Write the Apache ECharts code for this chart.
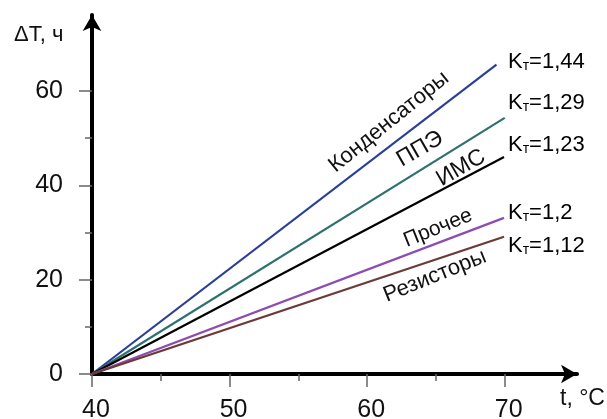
<!DOCTYPE html>
<html>
<head>
<meta charset="utf-8">
<script src="https://cdn.jsdelivr.net/npm/echarts@6/dist/echarts.min.js"></script>
<style>
  html, body { margin: 0; padding: 0; background: #fff; }
  #chart { width: 607px; height: 419px; }
</style>
</head>
<body>
<div id="chart"></div>
<script>
  /******************/
  //region    //data

  // line endpoints: every line starts at (40, 0)
  let startPoint = [40, 0];
  let seriesNames = ['Конденсаторы', 'ППЭ', 'ИМС', 'Прочее', 'Резисторы'];
  let endX = [69.4, 70, 69.95, 69.95, 69.95];
  let endY = [65.6, 54.3, 46.0, 33.1, 29.1];
  let kValues = ['1,44', '1,29', '1,23', '1,2', '1,12'];

  let xTickLabels = [40, 50, 60, 70];
  let xMinorTicks = [45, 55, 65];
  let yTickLabels = [0, 20, 40, 60];
  let yMinorTicks = [10, 30, 50];

  //endregion

  /******************/
  //region    //initialize

  let colors = ['#2b3f97', '#2f716e', '#000000', '#8e4bb0', '#6b3a38'];
  let numFont = '"Liberation Sans", Arial, sans-serif';
  let textFont = '"Liberation Sans", Arial, sans-serif';

  let grid = { left: 92, right: 30, top: 15, bottom: 45 };
  let gridW = 607 - grid.left - grid.right;
  let gridH = 419 - grid.top - grid.bottom;

  //endregion

  /******************/
  //region    //function

  function buildSeries() {
    return seriesNames.map((name, i) => ({
      name,
      type: 'line',
      symbol: 'none',
      silent: true,
      xAxisIndex: 0,
      yAxisIndex: 0,
      lineStyle: { color: colors[i], width: 2.2 },
      data: [startPoint, [endX[i], endY[i]]],
    }));
  }

  // rotated names along the lines
  function buildNameLabels() {
    let spots = [
      { x: 389, y: 122, r: 39, size: 22 },
      { x: 420, y: 149, r: 30, size: 23 },
      { x: 461, y: 168, r: 30, size: 23 },
      { x: 438, y: 228, r: 22, size: 21 },
      { x: 435, y: 276, r: 22, size: 22 },
    ];
    return seriesNames.map((name, i) => ({
      type: 'text',
      x: spots[i].x,
      y: spots[i].y,
      rotation: spots[i].r * Math.PI / 180,
      style: {
        text: name,
        fill: '#111',
        font: spots[i].size + 'px ' + textFont,
        align: 'center',
        verticalAlign: 'middle',
      },
    }));
  }

  // K_т labels at the right ends
  function buildKLabels() {
    let ys = [61, 102, 144, 212, 245];
    return kValues.map((k, i) => ({
      type: 'text',
      x: 508,
      y: ys[i],
      style: {
        text: '{k|K}{s|т}{k|=' + k + '}',
        align: 'left',
        verticalAlign: 'middle',
        rich: {
          k: { fontSize: 22, fontFamily: textFont, color: '#111', lineHeight: 24, verticalAlign: 'bottom' },
          s: { fontSize: 14, fontFamily: textFont, color: '#111', lineHeight: 24, verticalAlign: 'bottom' },
        },
      },
    }));
  }

  function deployEchart() {
    let chart = echarts.init(document.getElementById('chart'), null, { renderer: 'canvas' });
    let xMax = 40 + gridW / 13.757;
    let yMax = gridH / 4.717;

    let tickLine = { color: '#666', width: 1.5 };
    let option = {
      animation: false,
      grid: Object.assign({}, grid, { containLabel: false, outerBoundsMode: 'none' }),
      xAxis: [
        {
          type: 'value', position: 'bottom', min: 40, max: xMax,
          axisLine: {
            show: true, symbol: ['none', 'arrow'], symbolSize: [14, 16],
            lineStyle: { color: '#000', width: 4 },
          },
          axisTick: { show: true, length: 13, customValues: xTickLabels, lineStyle: tickLine },
          axisLabel: {
            customValues: xTickLabels, margin: 24, color: '#111',
            fontSize: 25, fontFamily: numFont, padding: [0, 0, 0, 8],
          },
          splitLine: { show: false },
        },
        {
          type: 'value', position: 'top', offset: -gridH, min: 40, max: xMax,
          axisLine: { show: false },
          axisTick: { show: true, inside: true, length: 7, customValues: xMinorTicks, lineStyle: tickLine },
          axisLabel: { show: false },
          splitLine: { show: false },
        },
      ],
      yAxis: [
        {
          type: 'value', position: 'left', min: 0, max: yMax,
          axisLine: {
            show: true, symbol: ['none', 'arrow'], symbolSize: [14, 16],
            lineStyle: { color: '#000', width: 4 },
          },
          axisTick: { show: true, length: 13, customValues: yTickLabels, lineStyle: tickLine },
          axisLabel: {
            customValues: yTickLabels, margin: 29, color: '#111',
            fontSize: 25, fontFamily: numFont, padding: [4, 0, 0, 0],
          },
          splitLine: { show: false },
        },
        {
          type: 'value', position: 'right', offset: -gridW, min: 0, max: yMax,
          axisLine: { show: false },
          axisTick: { show: true, inside: true, length: 7, customValues: yMinorTicks, lineStyle: tickLine },
          axisLabel: { show: false },
          splitLine: { show: false },
        },
      ],
      graphic: [
        {
          type: 'text', x: 14, y: 35,
          style: { text: 'ΔT, ч', fill: '#111', font: '22px ' + textFont, verticalAlign: 'middle' },
        },
        {
          type: 'text', x: 560, y: 399,
          style: { text: 't, °C', fill: '#111', font: '23px ' + textFont, verticalAlign: 'middle' },
        },
      ].concat(buildNameLabels(), buildKLabels()),
      series: buildSeries(),
    };

    chart.setOption(option);
  }

  deployEchart();

  //endregion
</script>
</body>
</html>
